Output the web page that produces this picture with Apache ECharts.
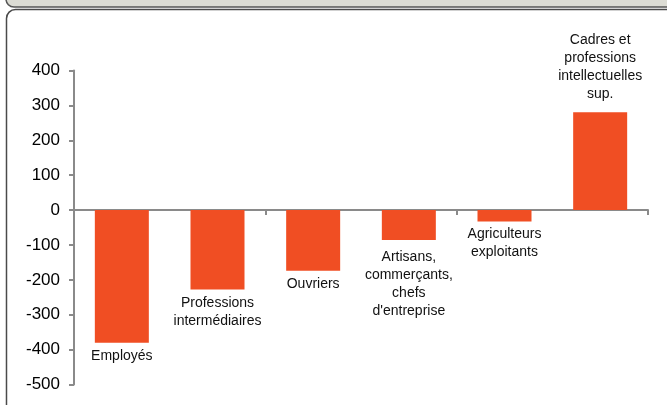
<!DOCTYPE html>
<html>
<head>
<meta charset="utf-8">
<script src="https://cdn.jsdelivr.net/npm/echarts@6/dist/echarts.min.js"></script>
<style>
html,body{margin:0;padding:0;background:#fff;}
#c{width:667px;height:405px;}
</style>
</head>
<body>
<div id="c"></div>
<script>
// Data
var categories = ['Employés', 'Professions\nintermédiaires', 'Ouvriers', 'Artisans,\ncommerçants,\nchefs\nd\'entreprise', 'Agriculteurs\nexploitants', 'Cadres et\nprofessions\nintellectuelles\nsup.'];
var values = [-380, -228, -174, -86, -33, 280];
var yTicks = [-500, -400, -300, -200, -100, 0, 100, 200, 300, 400];

// Styling
var labelGaps = [5, 5, 4, 8, 4, 9];
var barColor = '#f04e23';
var axisColor = '#8a8a8a';
var labelFont = "'Liberation Sans', Arial, sans-serif";

var chart = echarts.init(document.getElementById('c'), null, {renderer: 'canvas'});
var seriesData = values.map(function (v, i) {
  return {
    value: v,
    label: {
      position: v < 0 ? 'bottom' : 'top',
      distance: labelGaps[i]
    }
  };
});

chart.setOption({
  animation: false,
  graphic: [
    {type: 'rect', z: -10, shape: {x: 6, y: -30, width: 720, height: 37, r: 8},
      style: {fill: '#dcdcd4', stroke: '#555', lineWidth: 1.5}},
    {type: 'rect', z: -10, shape: {x: 6.5, y: 9.5, width: 720, height: 440, r: 9},
      style: {fill: '#fff', stroke: '#4a4a4a', lineWidth: 1.5}}
  ],
  grid: {left: 74, right: 19, top: 70.5, bottom: 20.5, containLabel: false},
  xAxis: {
    type: 'category',
    data: categories,
    axisLine: {onZero: true, lineStyle: {color: axisColor, width: 2}},
    axisTick: {show: true, length: 5, inside: false, lineStyle: {color: axisColor, width: 2}},
    axisLabel: {show: false},
    splitLine: {show: false}
  },
  yAxis: {
    type: 'value',
    min: yTicks[0],
    max: yTicks[yTicks.length - 1],
    interval: 100,
    axisLine: {show: true, lineStyle: {color: axisColor, width: 2}},
    axisTick: {show: true, length: 5, lineStyle: {color: axisColor, width: 2}},
    axisLabel: {margin: 14, color: '#000', fontSize: 17, fontFamily: "'Liberation Sans', Arial, sans-serif"},
    splitLine: {show: false}
  },
  series: [{
    type: 'bar',
    data: seriesData,
    barWidth: 54,
    itemStyle: {color: barColor},
    label: {
      show: true,
      formatter: function (p) { return categories[p.dataIndex]; },
      color: '#111',
      fontSize: 14,
      lineHeight: 18,
      fontFamily: labelFont,
      align: 'center'
    }
  }]
});
</script>
</body>
</html>
